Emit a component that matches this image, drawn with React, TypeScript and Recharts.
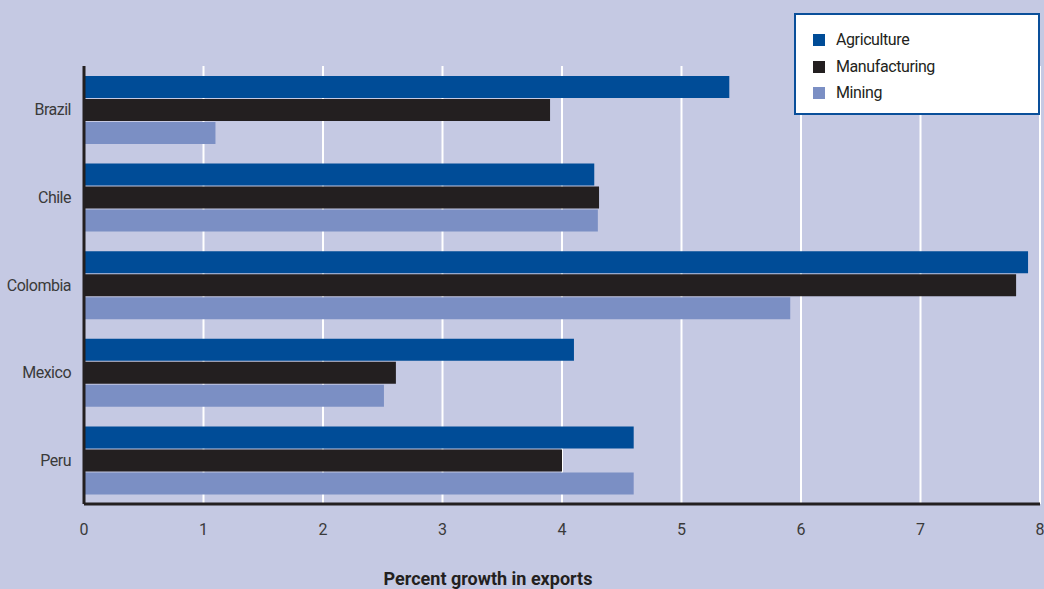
import React from 'react';
import { BarChart, Bar, XAxis, YAxis, CartesianGrid } from 'recharts';

const countries = ['Brazil', 'Chile', 'Colombia', 'Mexico', 'Peru'];
const agriculture = [5.4, 4.27, 7.9, 4.1, 4.6];
const manufacturing = [3.9, 4.31, 7.8, 2.61, 4.0];
const mining = [1.1, 4.3, 5.91, 2.51, 4.6];
const xTicks = [0, 1, 2, 3, 4, 5, 6, 7, 8];

const series = [
  { key: 'Agriculture', color: '#004c97', values: agriculture },
  { key: 'Manufacturing', color: '#231f20', values: manufacturing },
  { key: 'Mining', color: '#7b8fc4', values: mining },
];

const data = countries.map((c, i) => ({
  country: c,
  Agriculture: agriculture[i],
  Manufacturing: manufacturing[i],
  Mining: mining[i],
}));

const FONT = '"Roboto", "Liberation Sans", sans-serif';

const LegendBox = () => (
  <div
    style={{
      position: 'absolute',
      left: 794,
      top: 13,
      width: 242,
      height: 98,
      background: '#ffffff',
      border: '2px solid #0a4f9a',
      fontFamily: FONT,
      zIndex: 2,
    }}
  >
    {series.map((s, i) => (
      <div
        key={s.key}
        style={{
          position: 'absolute',
          left: 17,
          top: 16 + i * 26.5,
          display: 'flex',
          alignItems: 'center',
          height: 18,
        }}
      >
        <span style={{ display: 'inline-block', width: 12, height: 12, background: s.color }} />
        <span style={{ marginLeft: 11, fontSize: 16, letterSpacing: -0.4, color: '#231f20', lineHeight: '18px' }}>
          {s.key}
        </span>
      </div>
    ))}
  </div>
);

export default function App() {
  return (
    <div style={{ width: 1044, height: 589, background: '#c5c9e3', position: 'relative' }}>
      <style>{'body{margin:0;}'}</style>
      <BarChart
        width={1044}
        height={589}
        data={data}
        layout="vertical"
        margin={{ top: 66, right: 4, left: 0, bottom: 0 }}
        barSize={22}
        barGap={1}
      >
        <CartesianGrid horizontal={false} vertical={true} stroke="#ffffff" strokeWidth={2} />
        <XAxis
          type="number"
          domain={[0, 8]}
          ticks={xTicks}
          interval={0}
          height={85}
          tickLine={false}
          tickSize={0}
          tickMargin={20}
          axisLine={{ stroke: '#231f20', strokeWidth: 3 }}
          tick={{ fill: '#3a3a3a', fontSize: 16, fontFamily: FONT }}
          label={{
            value: 'Percent growth in exports',
            position: 'insideBottom',
            offset: 4,
            dx: -74,
            style: { fill: '#231f20', fontSize: 18, fontWeight: 'bold', letterSpacing: 0, fontFamily: FONT },
          }}
        />
        <YAxis
          type="category"
          dataKey="country"
          width={84}
          tickLine={false}
          tickSize={0}
          tickMargin={13}
          axisLine={{ stroke: '#231f20', strokeWidth: 3 }}
          tick={{ fill: '#3a3a3a', fontSize: 16, letterSpacing: -0.5, fontFamily: FONT }}
        />
        {series.map((s) => (
          <Bar key={s.key} dataKey={s.key} fill={s.color} isAnimationActive={false} />
        ))}
      </BarChart>
      <LegendBox />
    </div>
  );
}
